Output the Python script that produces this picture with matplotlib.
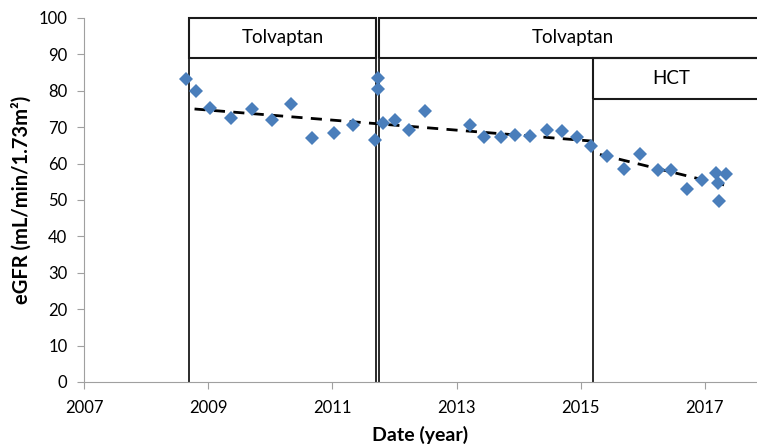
import matplotlib
matplotlib.use("Agg")
import matplotlib.pyplot as plt
from matplotlib.patches import Rectangle

plt.rcParams['font.family'] = ['Lato', 'DejaVu Sans']

# eGFR observations (decimal year, mL/min/1.73m2)
dates = [2008.64, 2008.80, 2009.03, 2009.36, 2009.70, 2010.02, 2010.33, 2010.68,
         2011.02, 2011.34, 2011.69, 2011.74, 2011.73, 2011.82, 2012.01, 2012.24,
         2012.50, 2013.22, 2013.45, 2013.71, 2013.95, 2014.19, 2014.46, 2014.70,
         2014.94, 2015.17, 2015.42, 2015.69, 2015.96, 2016.25, 2016.46, 2016.71,
         2016.95, 2017.18, 2017.21, 2017.34, 2017.23]
egfr = [83.2, 80.0, 75.2, 72.4, 74.9, 72.0, 76.3, 67.1,
        68.4, 70.6, 66.5, 83.6, 80.4, 71.2, 72.0, 69.3,
        74.4, 70.5, 67.3, 67.2, 67.9, 67.7, 69.3, 69.0,
        67.4, 64.9, 62.2, 58.4, 62.6, 58.1, 58.1, 53.1,
        55.5, 57.5, 54.8, 57.1, 49.7]

# trend lines (start/end)
trend1_x = [2008.78, 2015.17]
trend1_y = [75.0, 66.2]
trend2_x = [2015.31, 2017.34]
trend2_y = [62.5, 54.0]

# treatment periods
tolv1 = (2008.69, 2011.70)
tolv2_start = 2011.75
hct_start = 2015.20
label_tolv = "Tolvaptan"
label_hct = "HCT"

xticks = [2007, 2009, 2011, 2013, 2015, 2017]
yticks = list(range(0, 101, 10))

fig = plt.figure(figsize=(7.57, 4.45), dpi=100)
ax = fig.add_axes([0.111, 0.1416, 0.889, 0.818])
ax.set_xlim(2007, 2017.84)
ax.set_ylim(0, 100)

lc = '#1a1a1a'
box_bottom = 89
hct_bottom = 77.7
xfar = 2018.6

# vertical lines
ax.plot([tolv1[0], tolv1[0]], [0, 100], color=lc, lw=1.3, clip_on=False, zorder=2)
ax.plot([tolv1[1], tolv1[1]], [0, 100], color=lc, lw=1.3, clip_on=False, zorder=2)
ax.plot([tolv2_start, tolv2_start], [0, 100], color=lc, lw=1.3, clip_on=False, zorder=2)
ax.plot([hct_start, hct_start], [0, box_bottom], color=lc, lw=1.3, zorder=2)

# boxes
ax.add_patch(Rectangle((tolv1[0], box_bottom), tolv1[1] - tolv1[0], 100 - box_bottom,
                       fill=False, ec=lc, lw=1.5, clip_on=False))
ax.add_patch(Rectangle((tolv2_start, box_bottom), xfar - tolv2_start, 100 - box_bottom,
                       fill=False, ec=lc, lw=1.5, clip_on=False))
ax.add_patch(Rectangle((hct_start, hct_bottom), xfar - hct_start, box_bottom - hct_bottom,
                       fill=False, ec=lc, lw=1.5, clip_on=False))

ax.text((tolv1[0] + tolv1[1]) / 2, (box_bottom + 100) / 2, label_tolv,
        ha='center', va='center', fontsize=13.5)
ax.text(2014.87, (box_bottom + 100) / 2, label_tolv, ha='center', va='center', fontsize=13.5)
ax.text(2016.45, (hct_bottom + box_bottom) / 2, label_hct, ha='center', va='center', fontsize=13.5)

# trend lines
ax.plot(trend1_x, trend1_y, color='black', lw=2, ls=(0, (4, 3)), zorder=3)
ax.plot(trend2_x, trend2_y, color='black', lw=2, ls=(0, (4, 3)), zorder=3)

# data
ax.plot(dates, egfr, ls='none', marker='D', ms=7, color='#4a7ebb', zorder=4,
        markeredgewidth=0)

for s in ['top', 'right']:
    ax.spines[s].set_visible(False)
for s in ['left', 'bottom']:
    ax.spines[s].set_color('#a0a0a0')
ax.tick_params(axis='both', colors='#a0a0a0', labelcolor='black', labelsize=12,
               direction='out', length=5)
ax.set_xticks(xticks)
ax.set_yticks(yticks)
ax.tick_params(axis='x', pad=8)
ax.tick_params(axis='y', pad=7)

ax.set_xlabel('Date (year)', fontsize=14, fontweight='bold', labelpad=7)
ax.set_ylabel('eGFR (mL/min/1.73m²)', fontsize=14.5, fontweight='bold', labelpad=5)

fig.savefig('out.png', dpi=100)
